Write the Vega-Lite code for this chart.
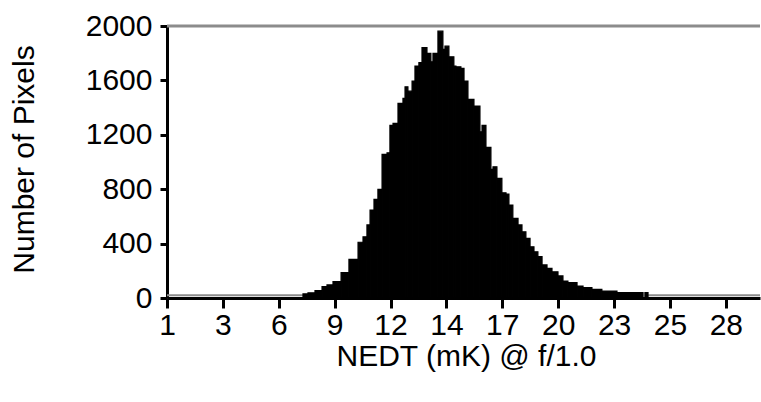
{
  "$schema": "https://vega.github.io/schema/vega-lite/v6.json",
  "width": 593,
  "height": 272,
  "autosize": {"type": "none"},
  "padding": {"left": 167, "top": 26, "right": 1, "bottom": 104},
  "background": "white",
  "config": {
    "view": {"stroke": null},
    "font": "Liberation Sans",
    "axis": {"labelFont": "Liberation Sans", "titleFont": "Liberation Sans", "labelColor": "black", "titleColor": "black", "titleFontWeight": "normal"}
  },
  "datasets": {
    "hist": [
      {"x0": 7.57, "x1": 7.81, "count": 30},
      {"x0": 7.81, "x1": 8.15, "count": 38},
      {"x0": 8.15, "x1": 8.49, "count": 54},
      {"x0": 8.49, "x1": 8.73, "count": 83},
      {"x0": 8.73, "x1": 9.02, "count": 96},
      {"x0": 9.02, "x1": 9.41, "count": 120},
      {"x0": 9.41, "x1": 9.79, "count": 186},
      {"x0": 9.79, "x1": 10.23, "count": 284},
      {"x0": 10.23, "x1": 10.47, "count": 410},
      {"x0": 10.47, "x1": 10.66, "count": 450},
      {"x0": 10.66, "x1": 10.81, "count": 537},
      {"x0": 10.81, "x1": 11.0, "count": 647},
      {"x0": 11.0, "x1": 11.19, "count": 725},
      {"x0": 11.19, "x1": 11.39, "count": 799},
      {"x0": 11.39, "x1": 11.63, "count": 1056},
      {"x0": 11.63, "x1": 11.77, "count": 1068},
      {"x0": 11.77, "x1": 11.92, "count": 1270},
      {"x0": 11.92, "x1": 12.16, "count": 1284},
      {"x0": 12.16, "x1": 12.4, "count": 1431},
      {"x0": 12.4, "x1": 12.5, "count": 1468},
      {"x0": 12.5, "x1": 12.64, "count": 1553},
      {"x0": 12.64, "x1": 12.84, "count": 1521},
      {"x0": 12.84, "x1": 12.98, "count": 1595},
      {"x0": 12.98, "x1": 13.17, "count": 1705},
      {"x0": 13.17, "x1": 13.32, "count": 1730},
      {"x0": 13.32, "x1": 13.56, "count": 1842},
      {"x0": 13.56, "x1": 13.75, "count": 1798},
      {"x0": 13.75, "x1": 13.85, "count": 1737},
      {"x0": 13.85, "x1": 14.09, "count": 1798},
      {"x0": 14.09, "x1": 14.33, "count": 1962},
      {"x0": 14.33, "x1": 14.43, "count": 1828},
      {"x0": 14.43, "x1": 14.62, "count": 1852},
      {"x0": 14.62, "x1": 14.86, "count": 1774},
      {"x0": 14.86, "x1": 14.96, "count": 1705},
      {"x0": 14.96, "x1": 15.2, "count": 1700},
      {"x0": 15.2, "x1": 15.35, "count": 1688},
      {"x0": 15.35, "x1": 15.54, "count": 1595},
      {"x0": 15.54, "x1": 15.83, "count": 1460},
      {"x0": 15.83, "x1": 16.12, "count": 1411},
      {"x0": 16.12, "x1": 16.22, "count": 1222},
      {"x0": 16.22, "x1": 16.41, "count": 1270},
      {"x0": 16.41, "x1": 16.65, "count": 1108},
      {"x0": 16.65, "x1": 16.75, "count": 946},
      {"x0": 16.75, "x1": 16.94, "count": 965},
      {"x0": 16.94, "x1": 17.18, "count": 880},
      {"x0": 17.18, "x1": 17.38, "count": 774},
      {"x0": 17.38, "x1": 17.52, "count": 764},
      {"x0": 17.52, "x1": 17.71, "count": 684},
      {"x0": 17.71, "x1": 17.96, "count": 586},
      {"x0": 17.96, "x1": 18.15, "count": 537},
      {"x0": 18.15, "x1": 18.34, "count": 487},
      {"x0": 18.34, "x1": 18.54, "count": 439},
      {"x0": 18.54, "x1": 18.73, "count": 377},
      {"x0": 18.73, "x1": 18.92, "count": 340},
      {"x0": 18.92, "x1": 19.12, "count": 304},
      {"x0": 19.12, "x1": 19.36, "count": 243},
      {"x0": 19.36, "x1": 19.6, "count": 218},
      {"x0": 19.6, "x1": 19.89, "count": 193},
      {"x0": 19.89, "x1": 20.13, "count": 162},
      {"x0": 20.13, "x1": 20.37, "count": 125},
      {"x0": 20.37, "x1": 20.81, "count": 113},
      {"x0": 20.81, "x1": 21.1, "count": 88},
      {"x0": 21.1, "x1": 21.53, "count": 76},
      {"x0": 21.53, "x1": 22.01, "count": 64},
      {"x0": 22.01, "x1": 22.74, "count": 51},
      {"x0": 22.74, "x1": 24.0, "count": 39},
      {"x0": 24.09, "x1": 24.24, "count": 39}
    ],
    "base": [
      {"x0": 1, "x1": 7.57, "count": 20},
      {"x0": 24.24, "x1": 29.65, "count": 20}
    ],
    "top": [{"count": 2000}]
  },
  "layer": [
    {
      "data": {"name": "top"},
      "mark": {"type": "rule", "color": "#8c8c8c", "strokeWidth": 3},
      "encoding": {
        "y": {"field": "count", "type": "quantitative", "scale": {"domain": [0, 2000], "nice": false}}
      }
    },
    {
      "data": {"name": "base"},
      "mark": {"type": "rule", "color": "#8c8c8c", "strokeWidth": 2},
      "encoding": {
        "x": {"field": "x0", "type": "quantitative"},
        "x2": {"field": "x1"},
        "y": {"field": "count", "type": "quantitative"}
      }
    },
    {
      "data": {"name": "hist"},
      "mark": {"type": "rect", "color": "black", "stroke": "black", "strokeWidth": 1.2},
      "encoding": {
        "x": {
          "field": "x0",
          "type": "quantitative",
          "scale": {"domain": [1, 29.65], "nice": false, "zero": false},
          "axis": {
            "values": [1, 3.7, 6.4, 9.1, 11.8, 14.5, 17.2, 19.9, 22.6, 25.3, 28],
            "labelExpr": "['1','3','6','9','12','14','17','20','23','25','28'][round((datum.value-1)/2.7)]",
            "labelFlush": false,
            "labelOverlap": false,
            "labelFontSize": 30,
            "labelPadding": 2,
            "tickSize": 10,
            "tickWidth": 3,
            "tickColor": "black",
            "domainColor": "black",
            "domainWidth": 3,
            "grid": false,
            "title": "NEDT (mK) @ f/1.0",
            "titleFontSize": 30,
            "titleX": 299,
            "titleY": 58,
            "titleBaseline": "middle",
            "titleAlign": "center"
          }
        },
        "x2": {"field": "x1"},
        "y": {
          "field": "count",
          "type": "quantitative",
          "scale": {"domain": [0, 2000], "nice": false},
          "axis": {
            "values": [0, 400, 800, 1200, 1600, 2000],
            "format": "d",
            "labelFlush": false,
            "labelOverlap": false,
            "labelFontSize": 30,
            "labelPadding": 8,
            "tickSize": 7,
            "tickWidth": 3,
            "tickColor": "black",
            "domainColor": "black",
            "domainWidth": 3,
            "grid": false,
            "title": "Number of Pixels",
            "titleFontSize": 30,
            "titleAngle": -90,
            "titleX": -143,
            "titleY": 133,
            "titleBaseline": "middle",
            "titleAlign": "center"
          }
        },
        "y2": {"datum": 0}
      }
    }
  ]
}
